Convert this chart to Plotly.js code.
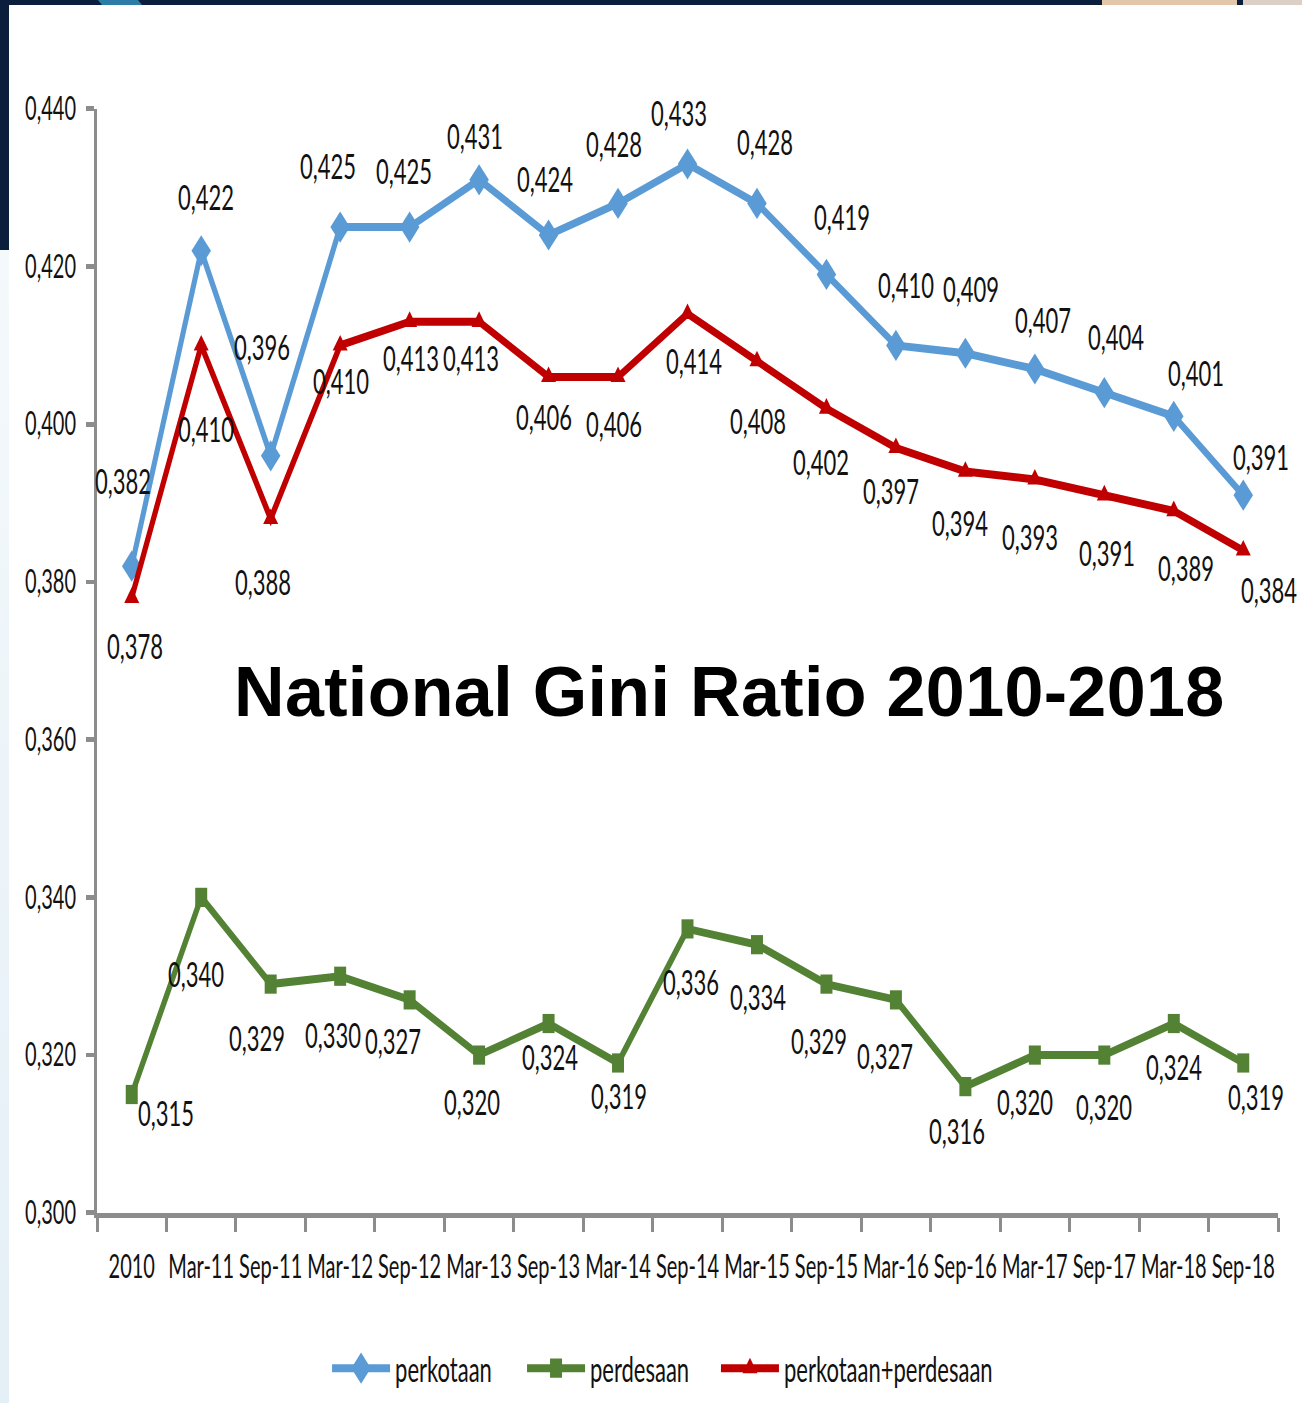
<!DOCTYPE html>
<html>
<head>
<meta charset="utf-8">
<script src="https://cdn.plot.ly/plotly-3.0.1.min.js"></script>
<style>
  html, body { margin:0; padding:0; background:#ffffff; width:1302px; height:1403px; overflow:hidden; position:relative; }
  .deco { position:absolute; z-index:0; }
  #wrap { position:absolute; left:0; top:0; width:1302px; height:877px; transform-origin:0 0; transform:scaleY(1.6); z-index:1; }
  #chart { width:1302px; height:877px; }
  #title { position:absolute; left:234px; top:652px; z-index:2; font-family:"Liberation Sans", Arial, sans-serif; font-weight:bold; font-size:70px; letter-spacing:0.35px; line-height:80px; color:#000; white-space:nowrap; }
</style>
</head>
<body>
<div class="deco" style="left:0;top:0;width:1302px;height:5px;background:#0b1f3c;"></div>
<div class="deco" style="left:100px;top:0;width:40px;height:5px;background:#2b7da8;transform:skewX(40deg);"></div>
<div class="deco" style="left:1102px;top:0;width:135px;height:5px;background:#e2c7ab;"></div>
<div class="deco" style="left:1243px;top:0;width:59px;height:5px;background:#dcd0c6;"></div>
<div class="deco" style="left:0;top:0;width:9px;height:250px;background:#0b1f3c;"></div>
<div class="deco" style="left:0;top:250px;width:9px;height:1153px;background:linear-gradient(#f4f9fc,#e4eff6);"></div>
<div id="wrap"><div id="chart"></div></div>
<div id="title">National Gini Ratio 2010-2018</div>
<script>
// ---- data ----
const categories = ['2010','Mar-11','Sep-11','Mar-12','Sep-12','Mar-13','Sep-13','Mar-14','Sep-14','Mar-15','Sep-15','Mar-16','Sep-16','Mar-17','Sep-17','Mar-18','Sep-18'];
const perkotaan = [0.382,0.422,0.396,0.425,0.425,0.431,0.424,0.428,0.433,0.428,0.419,0.410,0.409,0.407,0.404,0.401,0.391];
const perdesaan = [0.315,0.340,0.329,0.330,0.327,0.320,0.324,0.319,0.336,0.334,0.329,0.327,0.316,0.320,0.320,0.324,0.319];
const gabungan  = [0.378,0.410,0.388,0.410,0.413,0.413,0.406,0.406,0.414,0.408,0.402,0.397,0.394,0.393,0.391,0.389,0.384];
const seriesNames = ['perkotaan','perdesaan','perkotaan+perdesaan'];

// ---- label offsets (screen px, x right / y down) ----
const offKotaX = [-9,5,-9,-12,-6,-4,-4,-4,-9,8,16,10,6,8,12,22,18];
const offKotaY = [-85,-54,-109,-62,-56,-44,-56,-61,-51,-62,-58,-62,-65,-50,-56,-44,-38];
const offDesaX = [34,-5,-14,-7,-17,-7,1,1,3,1,-7,-11,-8,-10,0,0,13];
const offDesaY = [18,77,53,58,41,47,34,33,52,51,57,56,43,46,51,43,34];
const offGabX  = [3,5,-8,1,1,-8,-5,-4,6,1,-5,-5,-5,-5,3,12,26];
const offGabY  = [48,82,62,35,36,36,40,47,47,59,53,42,51,57,58,57,39];

const S = 1.6;
const colors = ['#5b9bd5','#548235','#c00000'];
const font = 'Lato, "Open Sans", sans-serif';

const fmt = v => v.toFixed(3).replace('.', ',');

function mkTrace(name, y, color, symbol, size, legendId) {
  return {
    type:'scatter', mode:'lines+markers', name:name, legend:legendId,
    x:categories, y:y,
    line:{color:color, width:5},
    marker:{color:color, symbol:symbol, size:size},
    cliponaxis:false, hoverinfo:'skip'
  };
}

const traces = [
  mkTrace(seriesNames[0], perkotaan, colors[0], 'diamond', 15, 'legend'),
  mkTrace(seriesNames[1], perdesaan, colors[1], 'square', 12, 'legend2'),
  mkTrace(seriesNames[2], gabungan, colors[2], 'triangle-up', 13, 'legend3')
];

const annotations = [];
function addLabels(vals, ox, oy) {
  vals.forEach((v, i) => {
    annotations.push({
      x: i, y: v, xref:'x', yref:'y',
      text: fmt(v), showarrow:false,
      xshift: ox[i], yshift: -oy[i] / S,
      font:{family:font, size:22, color:'#111111'}
    });
  });
}
addLabels(perkotaan, offKotaX, offKotaY);
addLabels(perdesaan, offDesaX, offDesaY);
addLabels(gabungan, offGabX, offGabY);

function mkLegend(x) {
  return {orientation:'h', x:x, xanchor:'left', y:-0.141, yanchor:'middle',
          bgcolor:'rgba(0,0,0,0)',
          font:{family:font, size:22, color:'#111111'}, itemwidth:58};
}

const layout = {
  width:1302, height:877,
  margin:{l:97, r:24, t:67.5, b:119.4, pad:0, autoexpand:false},
  paper_bgcolor:'rgba(0,0,0,0)', plot_bgcolor:'rgba(0,0,0,0)',
  separators:',.',
  showlegend:true,
  legend:mkLegend(0.1948),
  legend2:mkLegend(0.3599),
  legend3:mkLegend(0.5241),
  xaxis:{type:'category', range:[-0.5,16.5], showgrid:false, zeroline:false, automargin:false,
         showline:true, linecolor:'#8c8c8c', linewidth:3, tickangle:0,
         ticks:'outside', ticklen:9, tickwidth:3, tickcolor:'#8c8c8c', tickson:'boundaries',
         tickfont:{family:font, size:20, color:'#111111'}, ticklabelstandoff:14, fixedrange:true},
  yaxis:{range:[0.3,0.44], dtick:0.02, tick0:0.3, tickformat:'.3f', showgrid:false, zeroline:false, automargin:false,
         showline:true, linecolor:'#8c8c8c', linewidth:3,
         ticks:'outside', ticklen:8, tickwidth:3, tickcolor:'#8c8c8c',
         tickfont:{family:font, size:20, color:'#111111'}, ticklabelstandoff:6, fixedrange:true},
  annotations:annotations
};

Plotly.newPlot('chart', traces, layout, {staticPlot:true, displayModeBar:false});
</script>
</body>
</html>
